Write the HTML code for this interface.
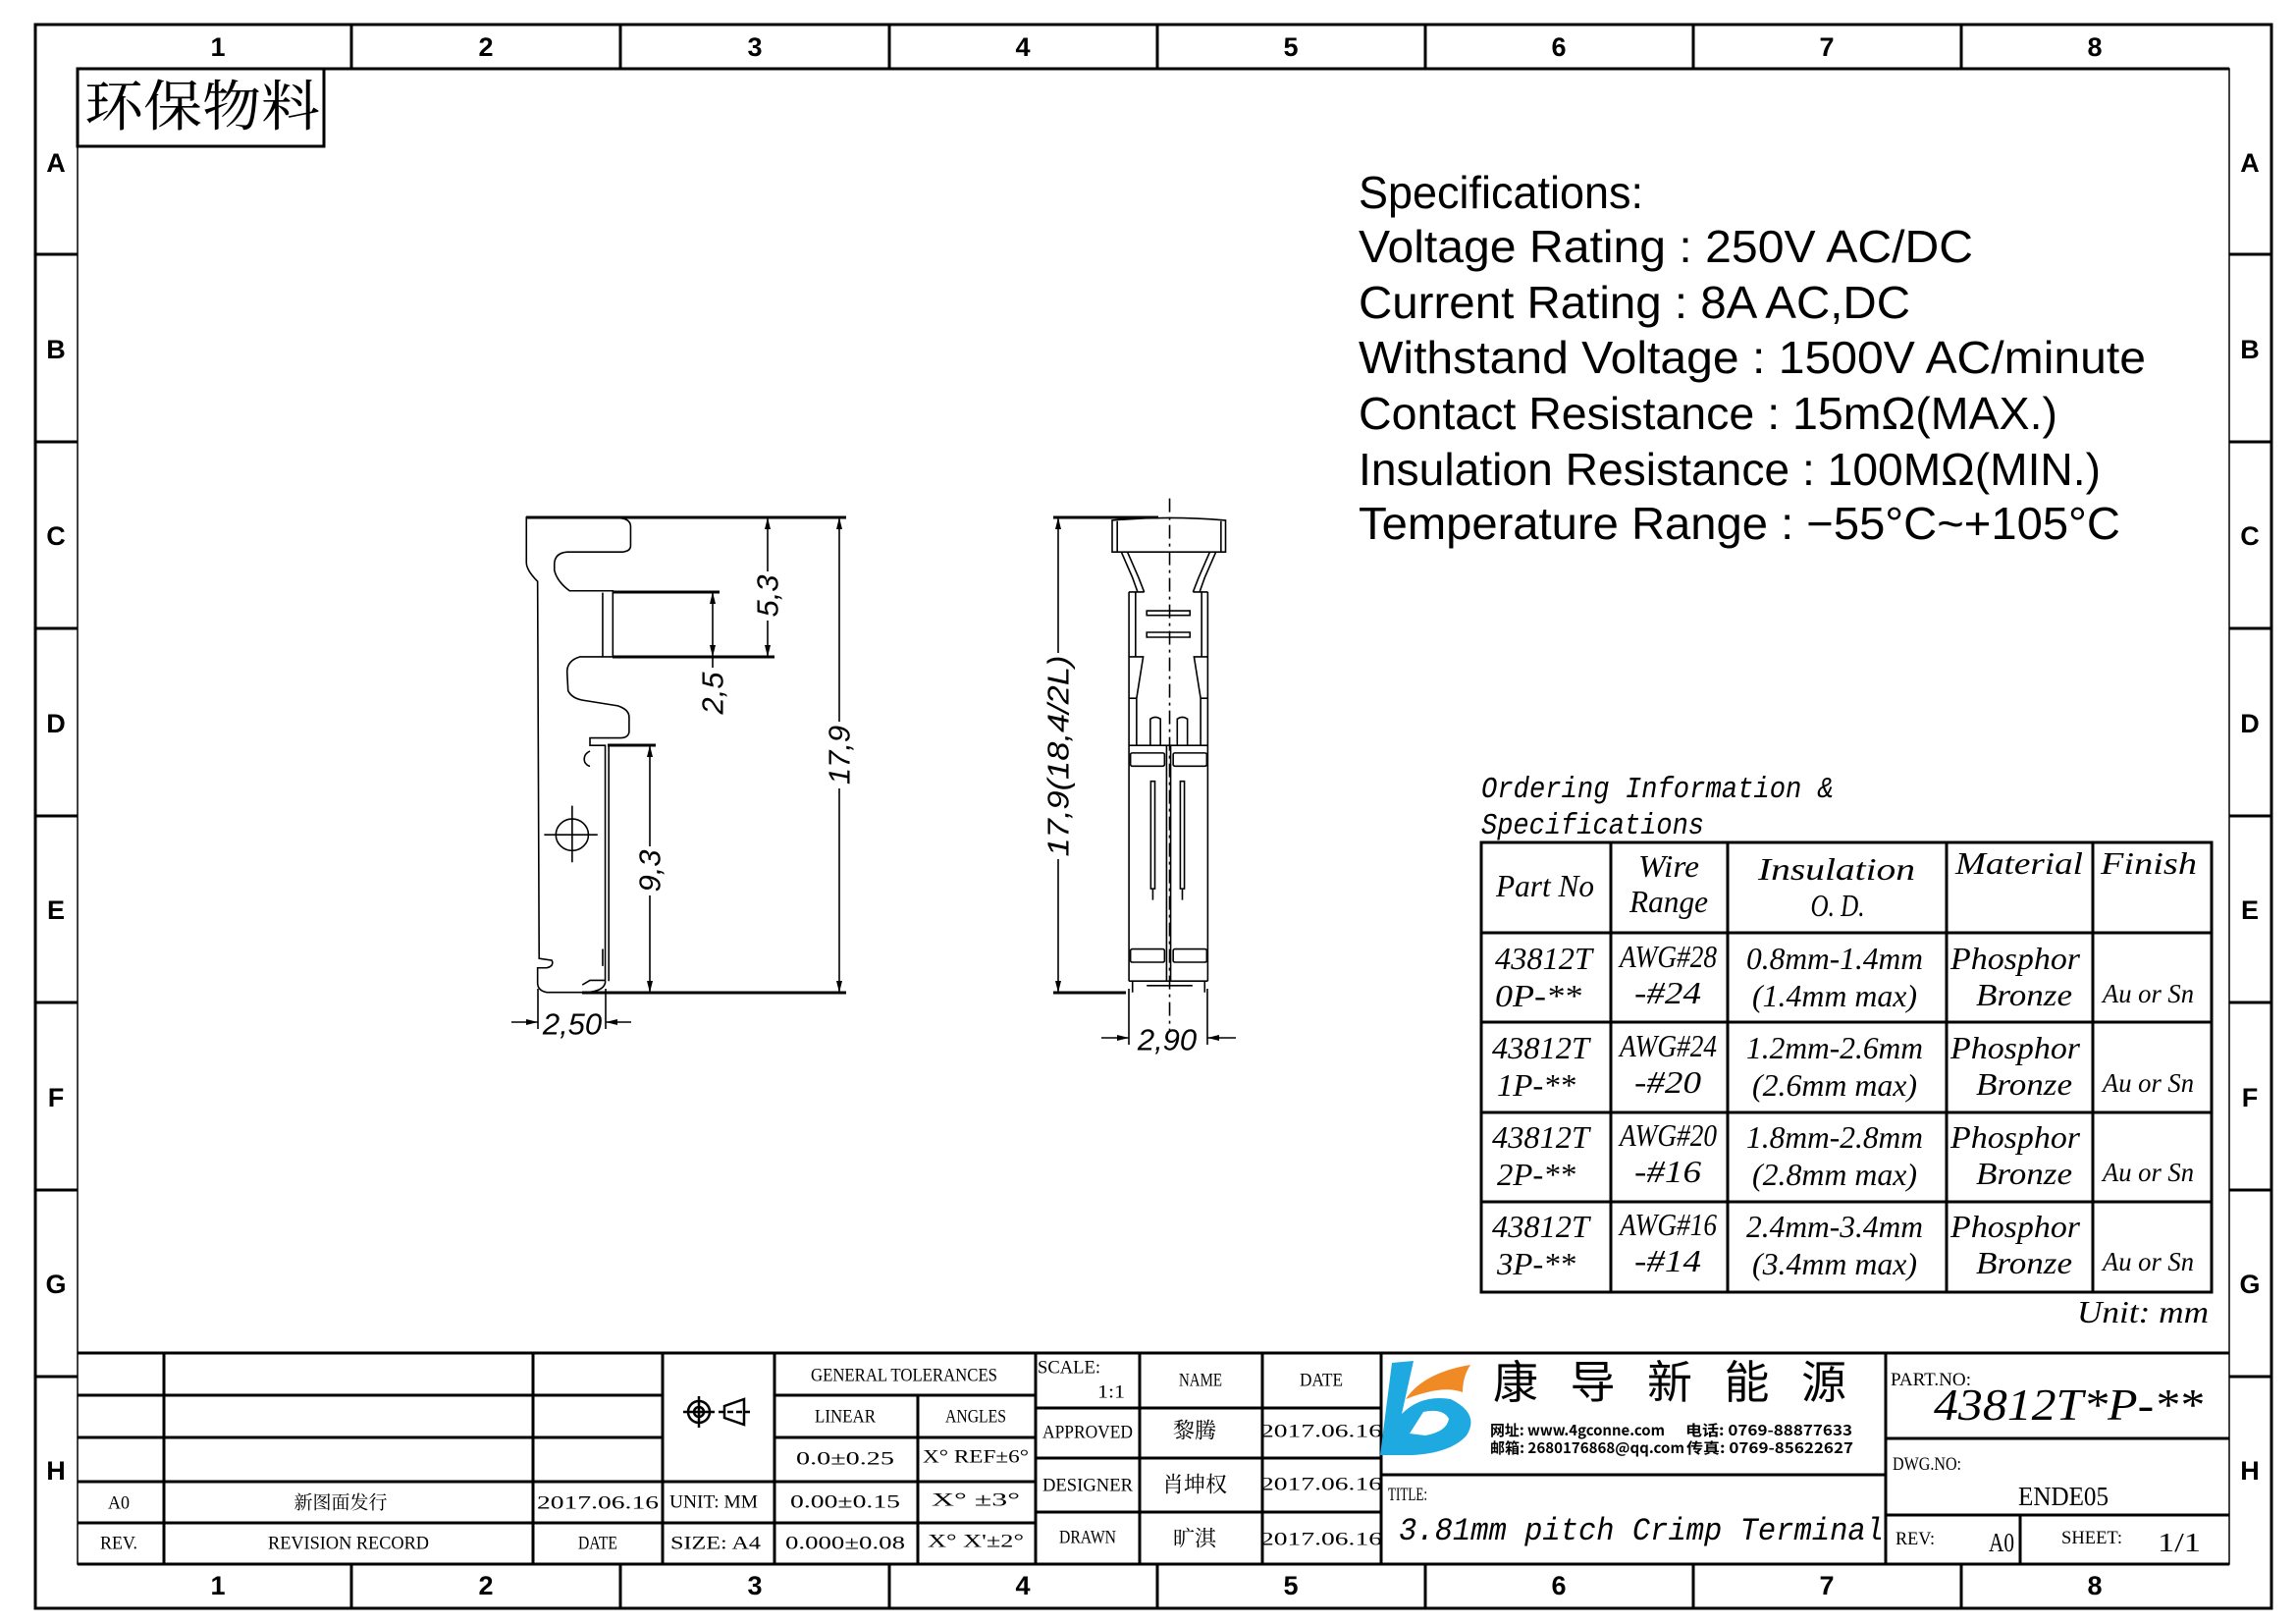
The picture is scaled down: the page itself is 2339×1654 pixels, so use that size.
<!DOCTYPE html>
<html><head><meta charset="utf-8"><style>
html,body{margin:0;padding:0;background:#fff;}
svg{display:block;}
.tb{font-family:"Liberation Serif","Noto Serif CJK SC",serif;font-size:19px;fill:#000;}
.sp{font-family:"Liberation Sans",sans-serif;font-size:46px;fill:#000;}
.it{font-family:"Liberation Serif",serif;font-style:italic;font-size:32px;fill:#000;}
.mo{font-family:"Liberation Mono",monospace;font-style:italic;font-size:31px;fill:#000;}
.dm{font-family:"Liberation Sans",sans-serif;font-style:italic;font-size:31px;fill:#000;}
.gl{font-family:"Liberation Sans",sans-serif;font-size:27px;font-weight:bold;fill:#000;}
</style></head><body>
<svg width="2339" height="1654" viewBox="0 0 2339 1654" xmlns="http://www.w3.org/2000/svg">
<rect width="2339" height="1654" fill="#fff"/>
<rect x="36" y="25" width="2278" height="1613" fill="none" stroke="#000" stroke-width="3"/>
<rect x="79" y="70" width="2192" height="1523" fill="none" stroke="#000" stroke-width="1.5"/>
<g stroke="#000" stroke-width="3">
<line x1="79" y1="70" x2="2271" y2="70"/>
<line x1="79" y1="1593" x2="2271" y2="1593"/>
<line x1="358" y1="25" x2="358" y2="70"/><line x1="632" y1="25" x2="632" y2="70"/><line x1="906" y1="25" x2="906" y2="70"/><line x1="1179" y1="25" x2="1179" y2="70"/><line x1="1452" y1="25" x2="1452" y2="70"/><line x1="1725" y1="25" x2="1725" y2="70"/><line x1="1998" y1="25" x2="1998" y2="70"/>
<line x1="358" y1="1593" x2="358" y2="1638"/><line x1="632" y1="1593" x2="632" y2="1638"/><line x1="906" y1="1593" x2="906" y2="1638"/><line x1="1179" y1="1593" x2="1179" y2="1638"/><line x1="1452" y1="1593" x2="1452" y2="1638"/><line x1="1725" y1="1593" x2="1725" y2="1638"/><line x1="1998" y1="1593" x2="1998" y2="1638"/>
<line x1="36" y1="259" x2="79" y2="259"/><line x1="36" y1="450" x2="79" y2="450"/><line x1="36" y1="640" x2="79" y2="640"/><line x1="36" y1="831" x2="79" y2="831"/><line x1="36" y1="1021" x2="79" y2="1021"/><line x1="36" y1="1212" x2="79" y2="1212"/><line x1="36" y1="1402" x2="79" y2="1402"/>
<line x1="2271" y1="259" x2="2314" y2="259"/><line x1="2271" y1="450" x2="2314" y2="450"/><line x1="2271" y1="640" x2="2314" y2="640"/><line x1="2271" y1="831" x2="2314" y2="831"/><line x1="2271" y1="1021" x2="2314" y2="1021"/><line x1="2271" y1="1212" x2="2314" y2="1212"/><line x1="2271" y1="1402" x2="2314" y2="1402"/>
</g>
<g class="gl" text-anchor="middle" dominant-baseline="central">
<text x="222" y="48">1</text><text x="495" y="48">2</text><text x="769" y="48">3</text><text x="1042" y="48">4</text><text x="1315" y="48">5</text><text x="1588" y="48">6</text><text x="1861" y="48">7</text><text x="2134" y="48">8</text>
<text x="222" y="1615">1</text><text x="495" y="1615">2</text><text x="769" y="1615">3</text><text x="1042" y="1615">4</text><text x="1315" y="1615">5</text><text x="1588" y="1615">6</text><text x="1861" y="1615">7</text><text x="2134" y="1615">8</text>
<text x="57" y="166">A</text><text x="57" y="356">B</text><text x="57" y="546">C</text><text x="57" y="737">D</text><text x="57" y="927">E</text><text x="57" y="1118">F</text><text x="57" y="1308">G</text><text x="57" y="1498">H</text>
<text x="2292" y="166">A</text><text x="2292" y="356">B</text><text x="2292" y="546">C</text><text x="2292" y="737">D</text><text x="2292" y="927">E</text><text x="2292" y="1118">F</text><text x="2292" y="1308">G</text><text x="2292" y="1498">H</text>
</g>
<rect x="79" y="70" width="251" height="79" fill="none" stroke="#000" stroke-width="3"/>
<text x="86" y="128" font-family="'Noto Serif CJK SC',serif" font-size="56" textLength="240" lengthAdjust="spacingAndGlyphs">环保物料</text>

<g class="sp">
<text x="1384" y="212" textLength="290" lengthAdjust="spacingAndGlyphs">Specifications:</text>
<text x="1384" y="267" textLength="626" lengthAdjust="spacingAndGlyphs">Voltage  Rating  :  250V  AC/DC</text>
<text x="1384" y="324" textLength="562" lengthAdjust="spacingAndGlyphs">Current  Rating  :  8A  AC,DC</text>
<text x="1384" y="380" textLength="802" lengthAdjust="spacingAndGlyphs">Withstand  Voltage  :  1500V  AC/minute</text>
<text x="1384" y="437" textLength="712" lengthAdjust="spacingAndGlyphs">Contact  Resistance  :  15mΩ(MAX.)</text>
<text x="1384" y="494" textLength="756" lengthAdjust="spacingAndGlyphs">Insulation  Resistance  :  100MΩ(MIN.)</text>
<text x="1384" y="549" textLength="776" lengthAdjust="spacingAndGlyphs">Temperature  Range  :  −55°C~+105°C</text>
</g>

<text class="mo" x="1509" y="812" textLength="359" lengthAdjust="spacingAndGlyphs">Ordering Information &amp;</text>
<text class="mo" x="1509" y="849" textLength="227" lengthAdjust="spacingAndGlyphs">Specifications</text>
<g stroke="#000" stroke-width="3" fill="none">
<rect x="1509" y="858" width="744" height="458"/>
<line x1="1641" y1="858" x2="1641" y2="1316"/><line x1="1760" y1="858" x2="1760" y2="1316"/><line x1="1983" y1="858" x2="1983" y2="1316"/><line x1="2132" y1="858" x2="2132" y2="1316"/>
<line x1="1509" y1="950" x2="2253" y2="950"/><line x1="1509" y1="1041" x2="2253" y2="1041"/><line x1="1509" y1="1133" x2="2253" y2="1133"/><line x1="1509" y1="1224" x2="2253" y2="1224"/>
</g>
<g class="it" text-anchor="middle">
<text x="1574" y="913" textLength="100" lengthAdjust="spacingAndGlyphs">Part No</text>
<text x="1700" y="893" textLength="62" lengthAdjust="spacingAndGlyphs">Wire</text>
<text x="1700" y="929" textLength="80" lengthAdjust="spacingAndGlyphs">Range</text>
<text x="1871" y="896" textLength="160" lengthAdjust="spacingAndGlyphs">Insulation</text>
<text x="1872" y="933" textLength="55" lengthAdjust="spacingAndGlyphs">O. D.</text>
<text x="2057" y="890" textLength="130" lengthAdjust="spacingAndGlyphs">Material</text>
<text x="2189" y="890" textLength="98" lengthAdjust="spacingAndGlyphs">Finish</text>
</g>
<g class="it">
<g>
<text x="1523" y="987" textLength="99" lengthAdjust="spacingAndGlyphs">43812T</text>
<text x="1523" y="1025" textLength="88" lengthAdjust="spacingAndGlyphs">0P-**</text>
<text x="1650" y="985" textLength="99" lengthAdjust="spacingAndGlyphs">AWG#28</text>
<text x="1665" y="1022" textLength="68" lengthAdjust="spacingAndGlyphs">-#24</text>
<text x="1779" y="987" textLength="180" lengthAdjust="spacingAndGlyphs">0.8mm-1.4mm</text>
<text x="1785" y="1025" textLength="168" lengthAdjust="spacingAndGlyphs">(1.4mm max)</text>
<text x="1987" y="987" textLength="132" lengthAdjust="spacingAndGlyphs">Phosphor</text>
<text x="2013" y="1024" textLength="98" lengthAdjust="spacingAndGlyphs">Bronze</text>
<text x="2142" y="1021" font-size="27" textLength="93" lengthAdjust="spacingAndGlyphs">Au or Sn</text>
</g>
<g transform="translate(0,91)">
<text x="1520" y="987" textLength="99" lengthAdjust="spacingAndGlyphs">43812T</text>
<text x="1525" y="1025" textLength="80" lengthAdjust="spacingAndGlyphs">1P-**</text>
<text x="1650" y="985" textLength="99" lengthAdjust="spacingAndGlyphs">AWG#24</text>
<text x="1665" y="1022" textLength="68" lengthAdjust="spacingAndGlyphs">-#20</text>
<text x="1779" y="987" textLength="180" lengthAdjust="spacingAndGlyphs">1.2mm-2.6mm</text>
<text x="1785" y="1025" textLength="168" lengthAdjust="spacingAndGlyphs">(2.6mm max)</text>
<text x="1987" y="987" textLength="132" lengthAdjust="spacingAndGlyphs">Phosphor</text>
<text x="2013" y="1024" textLength="98" lengthAdjust="spacingAndGlyphs">Bronze</text>
<text x="2142" y="1021" font-size="27" textLength="93" lengthAdjust="spacingAndGlyphs">Au or Sn</text>
</g>
<g transform="translate(0,182)">
<text x="1520" y="987" textLength="99" lengthAdjust="spacingAndGlyphs">43812T</text>
<text x="1525" y="1025" textLength="80" lengthAdjust="spacingAndGlyphs">2P-**</text>
<text x="1650" y="985" textLength="99" lengthAdjust="spacingAndGlyphs">AWG#20</text>
<text x="1665" y="1022" textLength="68" lengthAdjust="spacingAndGlyphs">-#16</text>
<text x="1779" y="987" textLength="180" lengthAdjust="spacingAndGlyphs">1.8mm-2.8mm</text>
<text x="1785" y="1025" textLength="168" lengthAdjust="spacingAndGlyphs">(2.8mm max)</text>
<text x="1987" y="987" textLength="132" lengthAdjust="spacingAndGlyphs">Phosphor</text>
<text x="2013" y="1024" textLength="98" lengthAdjust="spacingAndGlyphs">Bronze</text>
<text x="2142" y="1021" font-size="27" textLength="93" lengthAdjust="spacingAndGlyphs">Au or Sn</text>
</g>
<g transform="translate(0,273)">
<text x="1520" y="987" textLength="99" lengthAdjust="spacingAndGlyphs">43812T</text>
<text x="1525" y="1025" textLength="80" lengthAdjust="spacingAndGlyphs">3P-**</text>
<text x="1650" y="985" textLength="99" lengthAdjust="spacingAndGlyphs">AWG#16</text>
<text x="1665" y="1022" textLength="68" lengthAdjust="spacingAndGlyphs">-#14</text>
<text x="1779" y="987" textLength="180" lengthAdjust="spacingAndGlyphs">2.4mm-3.4mm</text>
<text x="1785" y="1025" textLength="168" lengthAdjust="spacingAndGlyphs">(3.4mm max)</text>
<text x="1987" y="987" textLength="132" lengthAdjust="spacingAndGlyphs">Phosphor</text>
<text x="2013" y="1024" textLength="98" lengthAdjust="spacingAndGlyphs">Bronze</text>
<text x="2142" y="1021" font-size="27" textLength="93" lengthAdjust="spacingAndGlyphs">Au or Sn</text>
</g>
<text x="2116" y="1347" textLength="134" lengthAdjust="spacingAndGlyphs">Unit: mm</text>
</g>

<g transform="translate(500,500) scale(0.518,0.384)" fill="none" stroke="#000" stroke-width="1.6">
<path vector-effect="non-scaling-stroke" d="M70,70 L255,72 Q275,75 275,95 L275,145 Q275,162 255,162 L150,162 Q125,165 125,195 L125,210 Q130,240 155,265 L240,265 L240,440 L175,440 Q150,450 150,480 L152,530 Q160,552 185,556 L250,570 Q272,580 272,600 L272,640 Q270,655 255,655 L195,655 L195,675 L225,675 L225,1305 Q220,1330 180,1330 L110,1330 Q92,1325 92,1305 L92,1265 L110,1265 Q125,1260 120,1245 L95,1240 L92,240 Q70,210 70,190 Z"/>
<path vector-effect="non-scaling-stroke" d="M220,270 L220,440 M232,675 L232,1300 M195,690 Q180,700 185,720 Q190,730 195,730 M180,1310 L195,1298 L225,1298 M220,1215 L220,1260"/>
<ellipse vector-effect="non-scaling-stroke" cx="160" cy="912" rx="32" ry="42"/>
<path vector-effect="non-scaling-stroke" d="M105,912 L210,912 M160,835 L160,985"/>
</g>
<g transform="translate(500,500) scale(0.518,0.384)" fill="none" stroke="#000" stroke-width="1.6">
<path vector-effect="non-scaling-stroke" d="M1222,78 Q1333,65 1445,78 L1445,162 L1222,162 Z M1232,80 L1232,160 M1436,80 L1436,160"/>
<path vector-effect="non-scaling-stroke" d="M1240,162 L1262,230 L1272,268 M1252,162 L1274,230 L1285,268 M1426,162 L1404,230 L1394,268 M1414,162 L1392,230 L1381,268"/>
<path vector-effect="non-scaling-stroke" d="M1255,268 L1255,1300 M1410,268 L1410,1300 M1255,268 L1285,268 M1381,268 L1410,268 M1268,268 L1268,440 M1398,268 L1398,440 M1255,440 L1283,440 L1270,550 L1270,675 M1410,440 L1383,440 L1396,550 L1396,675 M1255,550 L1270,550 M1396,550 L1410,550 M1255,675 L1410,675"/>
<rect vector-effect="non-scaling-stroke" x="1290" y="318" width="85" height="12"/>
<rect vector-effect="non-scaling-stroke" x="1290" y="375" width="85" height="13"/>
<path vector-effect="non-scaling-stroke" d="M1297,675 L1297,605 Q1307,595 1317,605 L1317,675 M1350,675 L1350,605 Q1360,595 1370,605 L1370,675 M1329,675 L1329,1300 M1337,675 L1337,1300"/>
<rect vector-effect="non-scaling-stroke" x="1258" y="695" width="67" height="35" rx="4"/>
<rect vector-effect="non-scaling-stroke" x="1342" y="695" width="66" height="35" rx="4"/>
<rect vector-effect="non-scaling-stroke" x="1258" y="1215" width="67" height="35" rx="4"/>
<rect vector-effect="non-scaling-stroke" x="1342" y="1215" width="66" height="35" rx="4"/>
<rect vector-effect="non-scaling-stroke" x="1298" y="770" width="8" height="285"/>
<rect vector-effect="non-scaling-stroke" x="1356" y="770" width="8" height="285"/>
<path vector-effect="non-scaling-stroke" d="M1302,1055 L1302,1085 M1360,1055 L1360,1085 M1255,1300 L1410,1300 M1290,1312 L1380,1312 M1262,1300 L1262,1330 M1404,1300 L1404,1330"/>
<path vector-effect="non-scaling-stroke" stroke-dasharray="14,5,3,5" d="M1335,20 L1335,1430"/>
</g>

<g stroke="#000" fill="none">
<g stroke-width="3">
<line x1="536" y1="527" x2="862" y2="527"/><line x1="593" y1="1011" x2="862" y2="1011"/>
<line x1="624" y1="669" x2="789" y2="669"/><line x1="624" y1="603" x2="733" y2="603"/><line x1="619" y1="759" x2="668" y2="759"/>
<line x1="1073" y1="527" x2="1180" y2="527"/><line x1="1073" y1="1011" x2="1147" y2="1011"/>
</g>
<g stroke-width="1.6">
<line x1="855" y1="527" x2="855" y2="1011"/>
<line x1="782" y1="527" x2="782" y2="669"/>
<line x1="726" y1="603" x2="726" y2="732"/>
<line x1="662" y1="759" x2="662" y2="1011"/>
<line x1="548" y1="1007" x2="548" y2="1048"/><line x1="617" y1="1007" x2="617" y2="1048"/>
<line x1="521" y1="1041" x2="548" y2="1041"/><line x1="617" y1="1041" x2="643" y2="1041"/>
<line x1="1078" y1="527" x2="1078" y2="1011"/>
<line x1="1150" y1="1007" x2="1150" y2="1064"/><line x1="1230" y1="1007" x2="1230" y2="1064"/>
<line x1="1122" y1="1057" x2="1150" y2="1057"/><line x1="1230" y1="1057" x2="1259" y2="1057"/>
</g>
</g>
<g fill="#000">
<path d="M855,527 l-3,12 l6,0 Z M855,1011 l-3,-12 l6,0 Z"/>
<path d="M782,527 l-3,12 l6,0 Z M782,669 l-3,-12 l6,0 Z"/>
<path d="M726,603 l-3,12 l6,0 Z M726,669 l-3,-12 l6,0 Z"/>
<path d="M662,759 l-3,12 l6,0 Z M662,1011 l-3,-12 l6,0 Z"/>
<path d="M548,1041 l-12,-3 l0,6 Z M617,1041 l12,-3 l0,6 Z"/>
<path d="M1078,527 l-3,12 l6,0 Z M1078,1011 l-3,-12 l6,0 Z"/>
<path d="M1150,1057 l-12,-3 l0,6 Z M1230,1057 l12,-3 l0,6 Z"/>
</g>
<g fill="#fff">
<rect x="840" y="735" width="30" height="68"/>
<rect x="767" y="582" width="30" height="50"/>
<rect x="711" y="680" width="30" height="52"/>
<rect x="647" y="862" width="30" height="50"/>
<rect x="1063" y="665" width="30" height="210"/>
</g>
<g class="dm" text-anchor="middle" dominant-baseline="central">
<text transform="translate(855,769) rotate(-90)">17,9</text>
<text transform="translate(782,607) rotate(-90)">5,3</text>
<text transform="translate(726,706) rotate(-90)">2,5</text>
<text transform="translate(662,887) rotate(-90)">9,3</text>
<text x="583" y="1043">2,50</text>
<text transform="translate(1078,770) rotate(-90)" textLength="205" lengthAdjust="spacingAndGlyphs">17,9(18,4/2L)</text>
<text x="1189" y="1059">2,90</text>
</g>

<g stroke="#000" stroke-width="3" fill="none">
<line x1="79" y1="1378" x2="2271" y2="1378"/>
<line x1="79" y1="1421" x2="675" y2="1421"/><line x1="79" y1="1464" x2="675" y2="1464"/>
<line x1="79" y1="1509" x2="1055" y2="1509"/><line x1="79" y1="1551" x2="1055" y2="1551"/>
<line x1="789" y1="1421" x2="1055" y2="1421"/><line x1="789" y1="1464" x2="1055" y2="1464"/>
<line x1="167" y1="1378" x2="167" y2="1593"/><line x1="543" y1="1378" x2="543" y2="1593"/>
<line x1="675" y1="1378" x2="675" y2="1593"/><line x1="789" y1="1378" x2="789" y2="1593"/>
<line x1="935" y1="1421" x2="935" y2="1593"/><line x1="1055" y1="1378" x2="1055" y2="1593"/>
<line x1="1161" y1="1378" x2="1161" y2="1593"/><line x1="1286" y1="1378" x2="1286" y2="1593"/><line x1="1407" y1="1378" x2="1407" y2="1593"/>
<line x1="1055" y1="1434" x2="1407" y2="1434"/><line x1="1055" y1="1485" x2="1407" y2="1485"/><line x1="1055" y1="1540" x2="1407" y2="1540"/>
<line x1="1407" y1="1502" x2="1921" y2="1502"/>
<line x1="1921" y1="1378" x2="1921" y2="1593"/>
<line x1="1921" y1="1465" x2="2271" y2="1465"/><line x1="1921" y1="1543" x2="2271" y2="1543"/>
<line x1="2058" y1="1543" x2="2058" y2="1593"/>
</g>
<g stroke="#000" stroke-width="2.5" fill="none">
<circle cx="712" cy="1438" r="11"/><circle cx="712" cy="1438" r="5"/>
<line x1="696" y1="1438" x2="728" y2="1438"/><line x1="712" y1="1422" x2="712" y2="1454"/>
<path d="M738,1432 L758,1425 L758,1451 L738,1444 Z"/>
<line x1="732" y1="1438" x2="764" y2="1438" stroke-dasharray="6,3"/>
</g>
<g class="tb" text-anchor="middle" dominant-baseline="central">
<text x="121" y="1531" textLength="22" lengthAdjust="spacingAndGlyphs">A0</text>
<text x="347" y="1531">新图面发行</text>
<text x="609" y="1531" textLength="124" lengthAdjust="spacingAndGlyphs">2017.06.16</text>
<text x="727" y="1530" textLength="90" lengthAdjust="spacingAndGlyphs">UNIT: MM</text>
<text x="121" y="1572" textLength="38" lengthAdjust="spacingAndGlyphs">REV.</text>
<text x="355" y="1572" textLength="164" lengthAdjust="spacingAndGlyphs">REVISION RECORD</text>
<text x="609" y="1572" textLength="40" lengthAdjust="spacingAndGlyphs">DATE</text>
<text x="729" y="1572" textLength="92" lengthAdjust="spacingAndGlyphs">SIZE: A4</text>
<text x="921" y="1401" textLength="190" lengthAdjust="spacingAndGlyphs">GENERAL TOLERANCES</text>
<text x="861" y="1443" textLength="62" lengthAdjust="spacingAndGlyphs">LINEAR</text>
<text x="994" y="1443" textLength="62" lengthAdjust="spacingAndGlyphs">ANGLES</text>
<text x="861" y="1486" textLength="100" lengthAdjust="spacingAndGlyphs">0.0±0.25</text>
<text x="994" y="1484" textLength="108" lengthAdjust="spacingAndGlyphs">X° REF±6°</text>
<text x="861" y="1530" textLength="112" lengthAdjust="spacingAndGlyphs">0.00±0.15</text>
<text x="994" y="1528" textLength="90" lengthAdjust="spacingAndGlyphs">X° ±3°</text>
<text x="861" y="1572" textLength="122" lengthAdjust="spacingAndGlyphs">0.000±0.08</text>
<text x="994" y="1570" textLength="98" lengthAdjust="spacingAndGlyphs">X° X'±2°</text>
<text x="1089" y="1393" textLength="64" lengthAdjust="spacingAndGlyphs">SCALE:</text>
<text x="1132" y="1418" textLength="28" lengthAdjust="spacingAndGlyphs">1:1</text>
<text x="1223" y="1406" textLength="44" lengthAdjust="spacingAndGlyphs">NAME</text>
<text x="1346" y="1406" textLength="44" lengthAdjust="spacingAndGlyphs">DATE</text>
<text x="1108" y="1459" textLength="92" lengthAdjust="spacingAndGlyphs">APPROVED</text>
<text x="1217" y="1457" font-size="22">黎腾</text>
<text x="1346" y="1458" textLength="124" lengthAdjust="spacingAndGlyphs">2017.06.16</text>
<text x="1108" y="1513" textLength="92" lengthAdjust="spacingAndGlyphs">DESIGNER</text>
<text x="1217" y="1512" font-size="22">肖坤权</text>
<text x="1346" y="1512" textLength="124" lengthAdjust="spacingAndGlyphs">2017.06.16</text>
<text x="1108" y="1566" textLength="58" lengthAdjust="spacingAndGlyphs">DRAWN</text>
<text x="1217" y="1567" font-size="22">旷淇</text>
<text x="1346" y="1568" textLength="124" lengthAdjust="spacingAndGlyphs">2017.06.16</text>
</g>
<path d="M1418,1388 L1440,1386 L1428,1440 Q1448,1420 1478,1425 Q1508,1440 1494,1462 Q1478,1480 1438,1482 L1406,1482 Z M1436,1460 L1452,1462 Q1474,1458 1476,1445 Q1470,1434 1450,1438 Z" fill="#1fa9e1" fill-rule="evenodd"/>
<path d="M1432,1425 Q1450,1398 1498,1390 Q1490,1402 1490,1418 Q1470,1410 1432,1425 Z" fill="#f08a24"/>
<text x="1521" y="1424" font-family="'Noto Sans CJK SC',sans-serif" font-size="46" textLength="360" lengthAdjust="spacing">康导新能源</text>
<g font-family="'Noto Sans CJK SC',sans-serif" font-weight="bold" font-size="15">
<text x="1518" y="1462" textLength="178" lengthAdjust="spacingAndGlyphs">网址: www.4gconne.com</text>
<text x="1717" y="1462" textLength="170" lengthAdjust="spacingAndGlyphs">电话: 0769-88877633</text>
<text x="1518" y="1480" textLength="198" lengthAdjust="spacingAndGlyphs">邮箱: 2680176868@qq.com</text>
<text x="1718" y="1480" textLength="170" lengthAdjust="spacingAndGlyphs">传真: 0769-85622627</text>
</g>
<g class="tb">
<text x="1414" y="1528" textLength="40" lengthAdjust="spacingAndGlyphs">TITLE:</text>
<text x="1425" y="1568" font-family="'Liberation Mono',monospace" font-style="italic" font-size="32" textLength="494" lengthAdjust="spacingAndGlyphs">3.81mm pitch Crimp Terminal</text>
<text x="1926" y="1411" textLength="82" lengthAdjust="spacingAndGlyphs">PART.NO:</text>
<text x="1970" y="1446" font-style="italic" font-size="46" textLength="274" lengthAdjust="spacingAndGlyphs">43812T*P-**</text>
<text x="1928" y="1497" textLength="70" lengthAdjust="spacingAndGlyphs">DWG.NO:</text>
<text x="2056" y="1533" font-size="27" textLength="92" lengthAdjust="spacingAndGlyphs">ENDE05</text>
<text x="1931" y="1573" textLength="40" lengthAdjust="spacingAndGlyphs">REV:</text>
<text x="2026" y="1580" font-size="27" textLength="26" lengthAdjust="spacingAndGlyphs">A0</text>
<text x="2100" y="1572" textLength="62" lengthAdjust="spacingAndGlyphs">SHEET:</text>
<text x="2198" y="1580" font-size="27" textLength="44" lengthAdjust="spacingAndGlyphs">1/1</text>
</g>
</svg>
</body></html>
